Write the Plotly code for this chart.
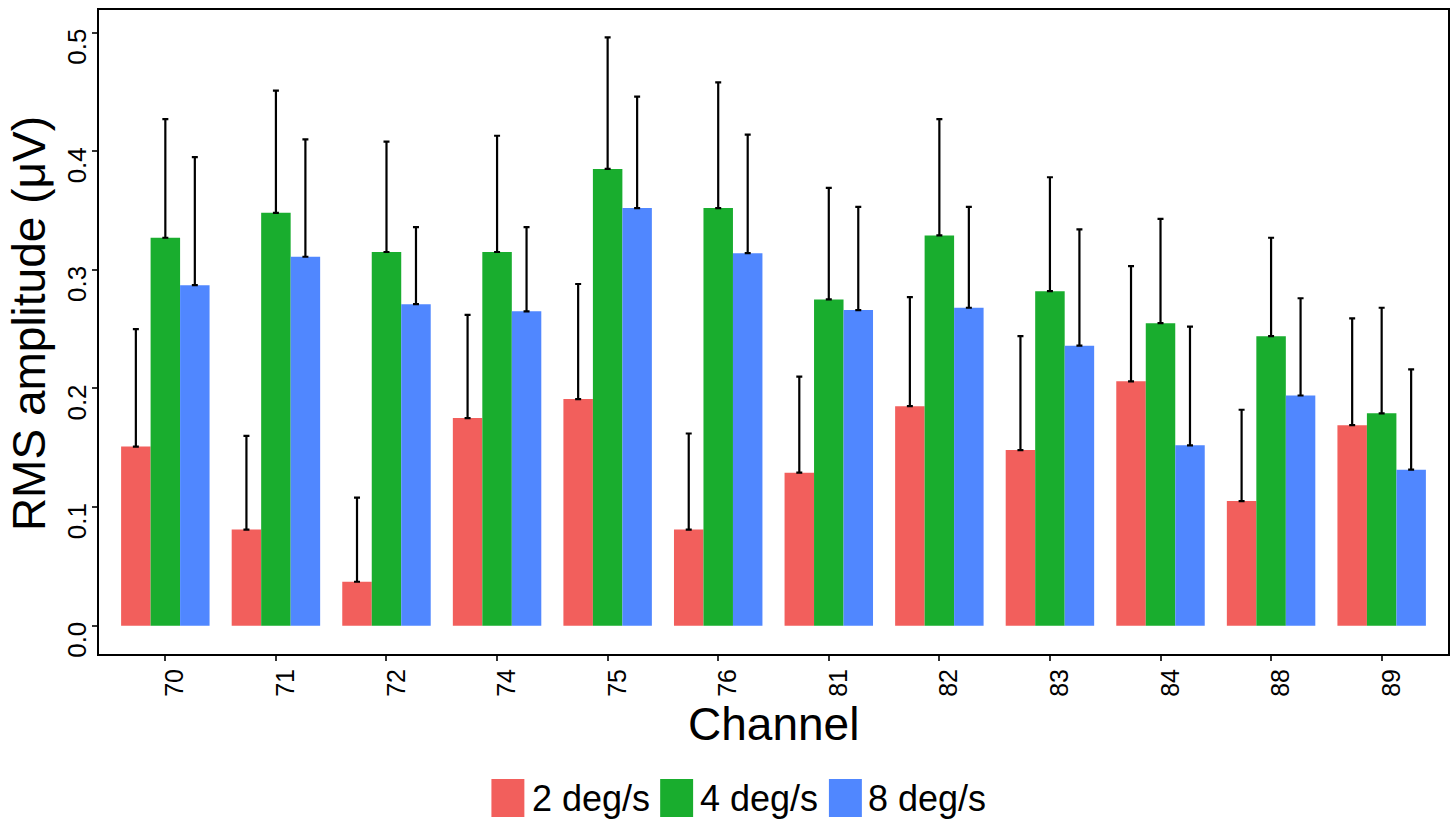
import plotly.graph_objects as go

channels = ["70", "71", "72", "74", "75", "76", "81", "82", "83", "84", "88", "89"]
series_names = ["2 deg/s", "4 deg/s", "8 deg/s"]
colors = ["#F25F5C", "#19AD2E", "#5087FF"]

mean_2 = [0.151, 0.081, 0.037, 0.175, 0.191, 0.081, 0.129, 0.185, 0.148, 0.206, 0.105, 0.169]
upper_2 = [0.250, 0.160, 0.108, 0.262, 0.288, 0.162, 0.210, 0.277, 0.244, 0.303, 0.182, 0.259]
mean_4 = [0.327, 0.348, 0.315, 0.315, 0.385, 0.352, 0.275, 0.329, 0.282, 0.255, 0.244, 0.179]
upper_4 = [0.427, 0.451, 0.408, 0.413, 0.496, 0.458, 0.369, 0.427, 0.378, 0.343, 0.327, 0.268]
mean_8 = [0.287, 0.311, 0.271, 0.265, 0.352, 0.314, 0.266, 0.268, 0.236, 0.152, 0.194, 0.1315]
upper_8 = [0.395, 0.410, 0.336, 0.336, 0.446, 0.414, 0.353, 0.353, 0.334, 0.252, 0.276, 0.216]

y_ticks = [0.0, 0.1, 0.2, 0.3, 0.4, 0.5]

means = [mean_2, mean_4, mean_8]
uppers = [upper_2, upper_4, upper_8]

fig = go.Figure()
for name, col, m, u in zip(series_names, colors, means, uppers):
    fig.add_trace(go.Bar(
        x=channels, y=m, name=name,
        marker=dict(color=col, line=dict(width=0)),
        error_y=dict(type="data", symmetric=False,
                     array=[b - a for a, b in zip(m, u)],
                     arrayminus=[0] * len(m),
                     color="black", thickness=2.2, width=3),
        showlegend=False,
    ))

W, H = 1455, 821
L, R, T, B = 99, 5, 10, 167
pw, ph = W - L - R, H - T - B

def px_x(px):
    return (px - L) / pw

def px_y(py):
    return (H - B - py) / ph

font = "Liberation Sans, Arial, Helvetica, sans-serif"

annotations = [
    dict(text="Channel", x=px_x(774.5), y=px_y(724), xref="paper", yref="paper",
         xanchor="center", yanchor="middle", showarrow=False,
         font=dict(size=46, color="black", family=font)),
    dict(text="RMS amplitude (μV)", x=px_x(29), y=px_y(324), xref="paper", yref="paper",
         xanchor="center", yanchor="middle", showarrow=False, textangle=-90,
         font=dict(size=46, color="black", family=font)),
]
shapes = []
sq_left = [492, 661, 830]
txt_left = [531, 699, 867]
for name, col, sl, tl in zip(series_names, colors, sq_left, txt_left):
    shapes.append(dict(type="rect", xref="paper", yref="paper",
                       x0=px_x(sl), x1=px_x(sl + 33), y0=px_y(779), y1=px_y(817),
                       fillcolor=col, line=dict(width=0)))
    annotations.append(dict(text=name, x=px_x(tl), y=px_y(798), xref="paper", yref="paper",
                            xanchor="left", yanchor="middle", showarrow=False,
                            font=dict(size=36, color="black", family=font)))

fig.update_layout(
    width=W, height=H,
    margin=dict(l=L, r=R, t=T, b=B),
    paper_bgcolor="white", plot_bgcolor="white",
    barmode="group", bargap=0.2, bargroupgap=0,
    font=dict(family=font, color="black"),
    annotations=annotations, shapes=shapes,
    xaxis=dict(type="category", range=[-0.6, 11.6], showgrid=False,
               showline=True, mirror=True, linecolor="black", linewidth=2,
               ticks="outside", ticklen=5, tickwidth=2, tickcolor="#333333",
               tickangle=-90, ticklabelshift=10, ticklabelstandoff=-2,
               tickfont=dict(size=25, color="black", family=font)),
    yaxis=dict(range=[-0.0239, 0.519], showgrid=False, zeroline=False,
               tickvals=y_ticks, ticktext=[f"{v:.1f}" for v in y_ticks],
               showline=True, mirror=True, linecolor="black", linewidth=2,
               ticks="outside", ticklen=5, tickwidth=2, tickcolor="#333333",
               tickangle=-90, ticklabelshift=18, ticklabelstandoff=-4,
               tickfont=dict(size=26, color="black", family=font)),
)

fig.write_html("out.html", config={"displayModeBar": False},
               post_script="document.body.style.margin='0px';")
